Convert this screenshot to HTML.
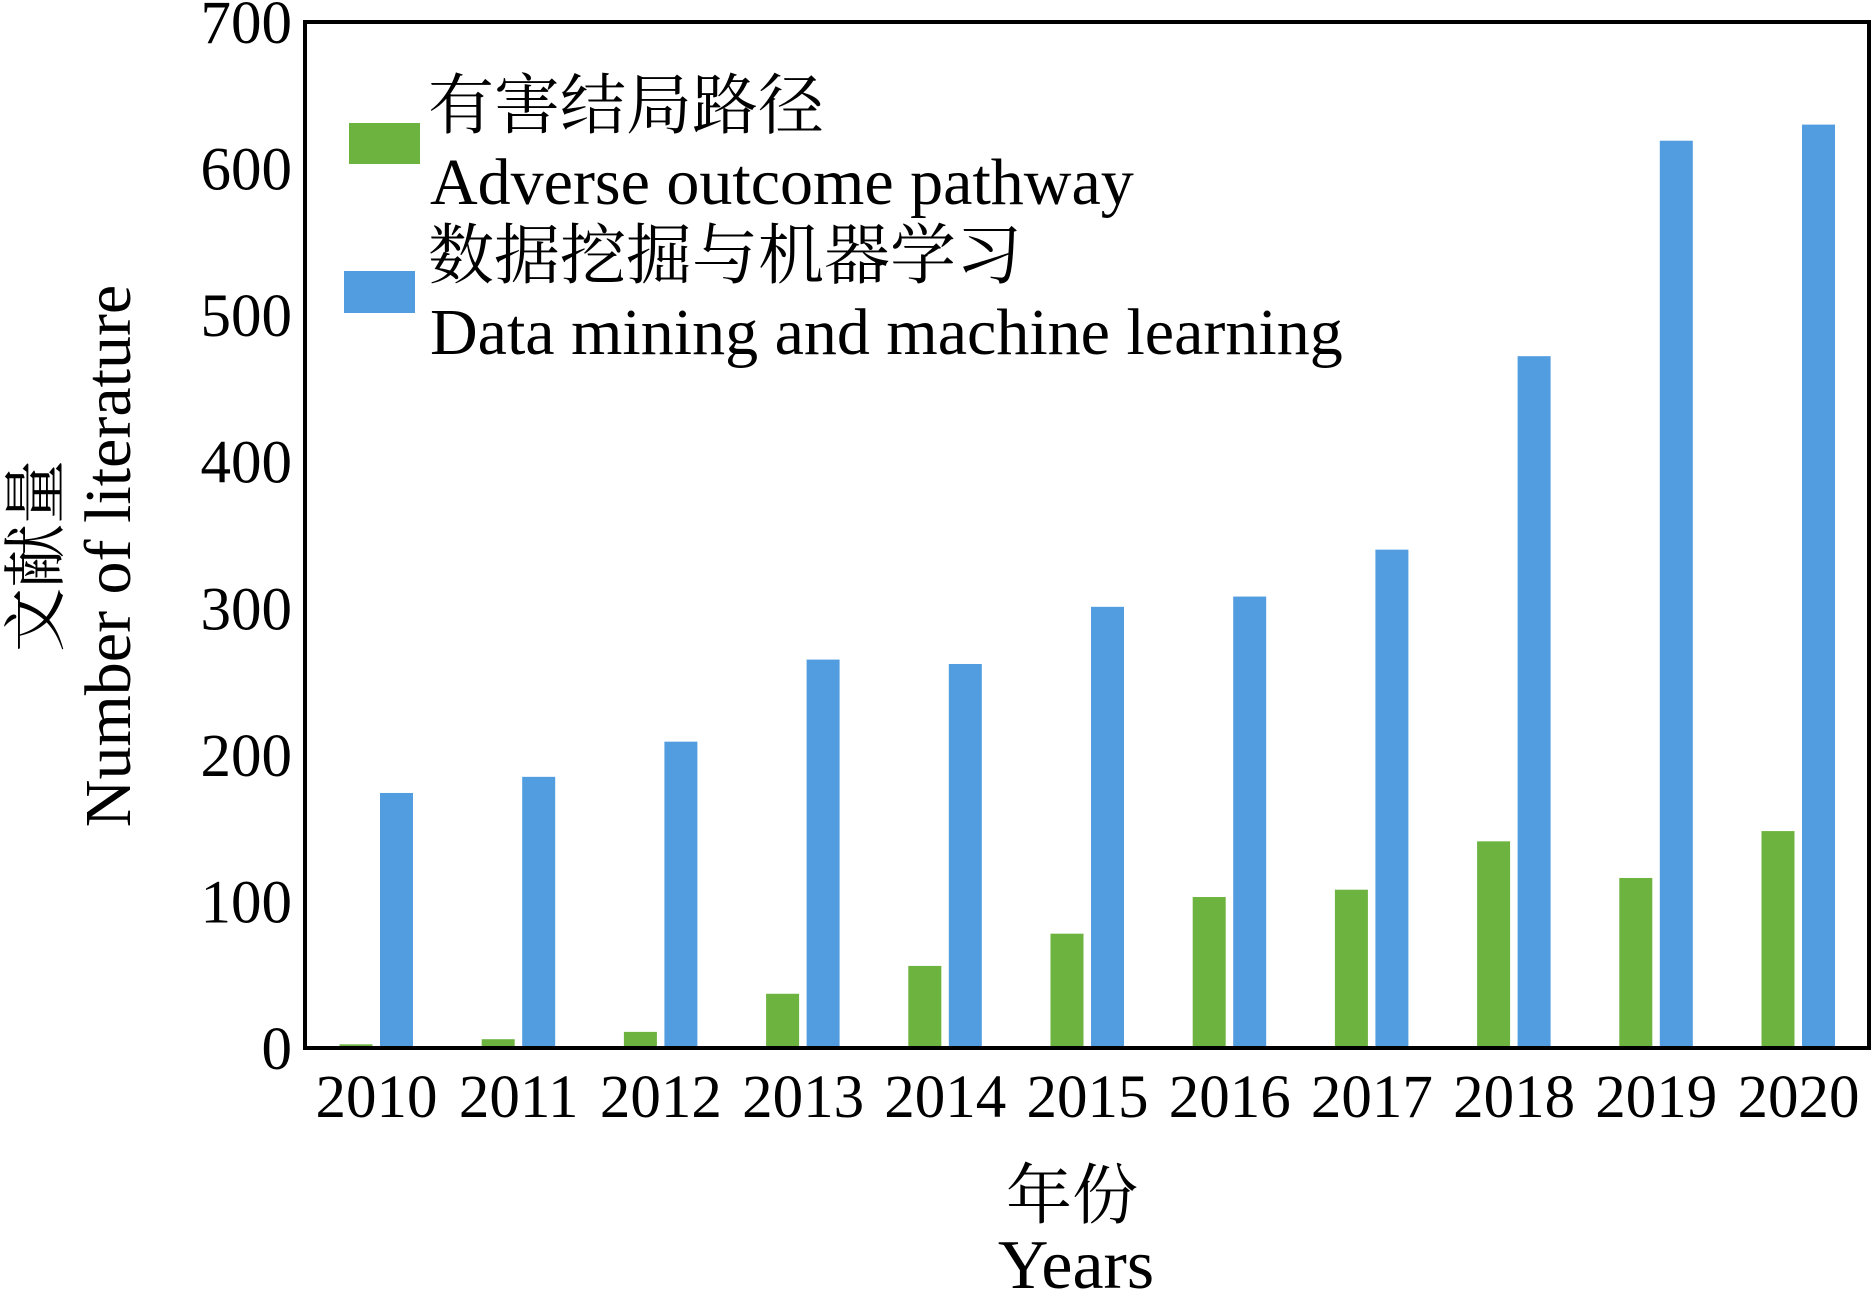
<!DOCTYPE html>
<html><head><meta charset="utf-8"><style>
html,body{margin:0;padding:0;background:#fff;}
svg text{font-family:"Liberation Serif","Noto Serif CJK SC","Noto Sans CJK SC",serif;fill:#000;}
</style></head><body>
<svg id="chart" width="1874" height="1293" xmlns="http://www.w3.org/2000/svg">
<g id="bars"></g>
<rect x="305" y="22" width="1564" height="1026" fill="none" stroke="#000" stroke-width="4"/>
<g id="yticks"></g>
<g id="xticks"></g>
<g>
<rect x="349" y="123" width="71" height="41" fill="#6db33f"/>
<text x="428" y="128" font-size="66">有害结局路径</text>
<text x="430" y="204" font-size="66">Adverse outcome pathway</text>
<rect x="344" y="271" width="71" height="42" fill="#529ddf"/>
<text x="428" y="278" font-size="66">数据挖掘与机器学习</text>
<text x="430" y="354" font-size="66">Data mining and machine learning</text>
</g>
<text transform="translate(58,556) rotate(-90)" text-anchor="middle" font-size="64">文献量</text>
<text transform="translate(130,556) rotate(-90)" text-anchor="middle" font-size="66">Number of literature</text>
<text x="1072" y="1218" text-anchor="middle" font-size="66">年份</text>
<text x="1076" y="1288" text-anchor="middle" font-size="70">Years</text>
</svg>
<script>
const categories=["2010","2011","2012","2013","2014","2015","2016","2017","2018","2019","2020"];
const aopValues=[2.5,6,11,37,56,78,103,108,141,116,148];
const dmValues=[174,185,209,265,262,301,308,340,472,619,630];
const yTicks=[0,100,200,300,400,500,600,700];
const NS="http://www.w3.org/2000/svg";
const y0=1048,yTop=22,yMax=700;
function yScale(v){return y0-(v/yMax)*(y0-yTop);}
function xCenter(i){return 376.5+i*142.2;}
const bars=document.getElementById('bars');
categories.forEach((c,i)=>{
  const cx=xCenter(i);
  const g=document.createElementNS(NS,'rect');
  
  
  g.setAttribute('x',cx-37);g.setAttribute('width',33);
  g.setAttribute('y',yScale(aopValues[i]));g.setAttribute('height',y0-yScale(aopValues[i]));
  g.setAttribute('fill','#6db33f');bars.appendChild(g);
  const b=document.createElementNS(NS,'rect');
  
  
  b.setAttribute('x',cx+3.5);b.setAttribute('width',33);
  b.setAttribute('y',yScale(dmValues[i]));b.setAttribute('height',y0-yScale(dmValues[i]));
  b.setAttribute('fill','#529ddf');bars.appendChild(b);
  const t=document.createElementNS(NS,'text');
  
  
  t.setAttribute('x',cx);t.setAttribute('y',1117);t.setAttribute('text-anchor','middle');t.setAttribute('font-size','61');
  t.textContent=c;document.getElementById('xticks').appendChild(t);
});
yTicks.forEach(v=>{
  const t=document.createElementNS(NS,'text');
  
  
  t.setAttribute('x',292);t.setAttribute('y',yScale(v)+21);t.setAttribute('text-anchor','end');t.setAttribute('font-size','61');
  t.textContent=v;document.getElementById('yticks').appendChild(t);
});
</script>
</body></html>
